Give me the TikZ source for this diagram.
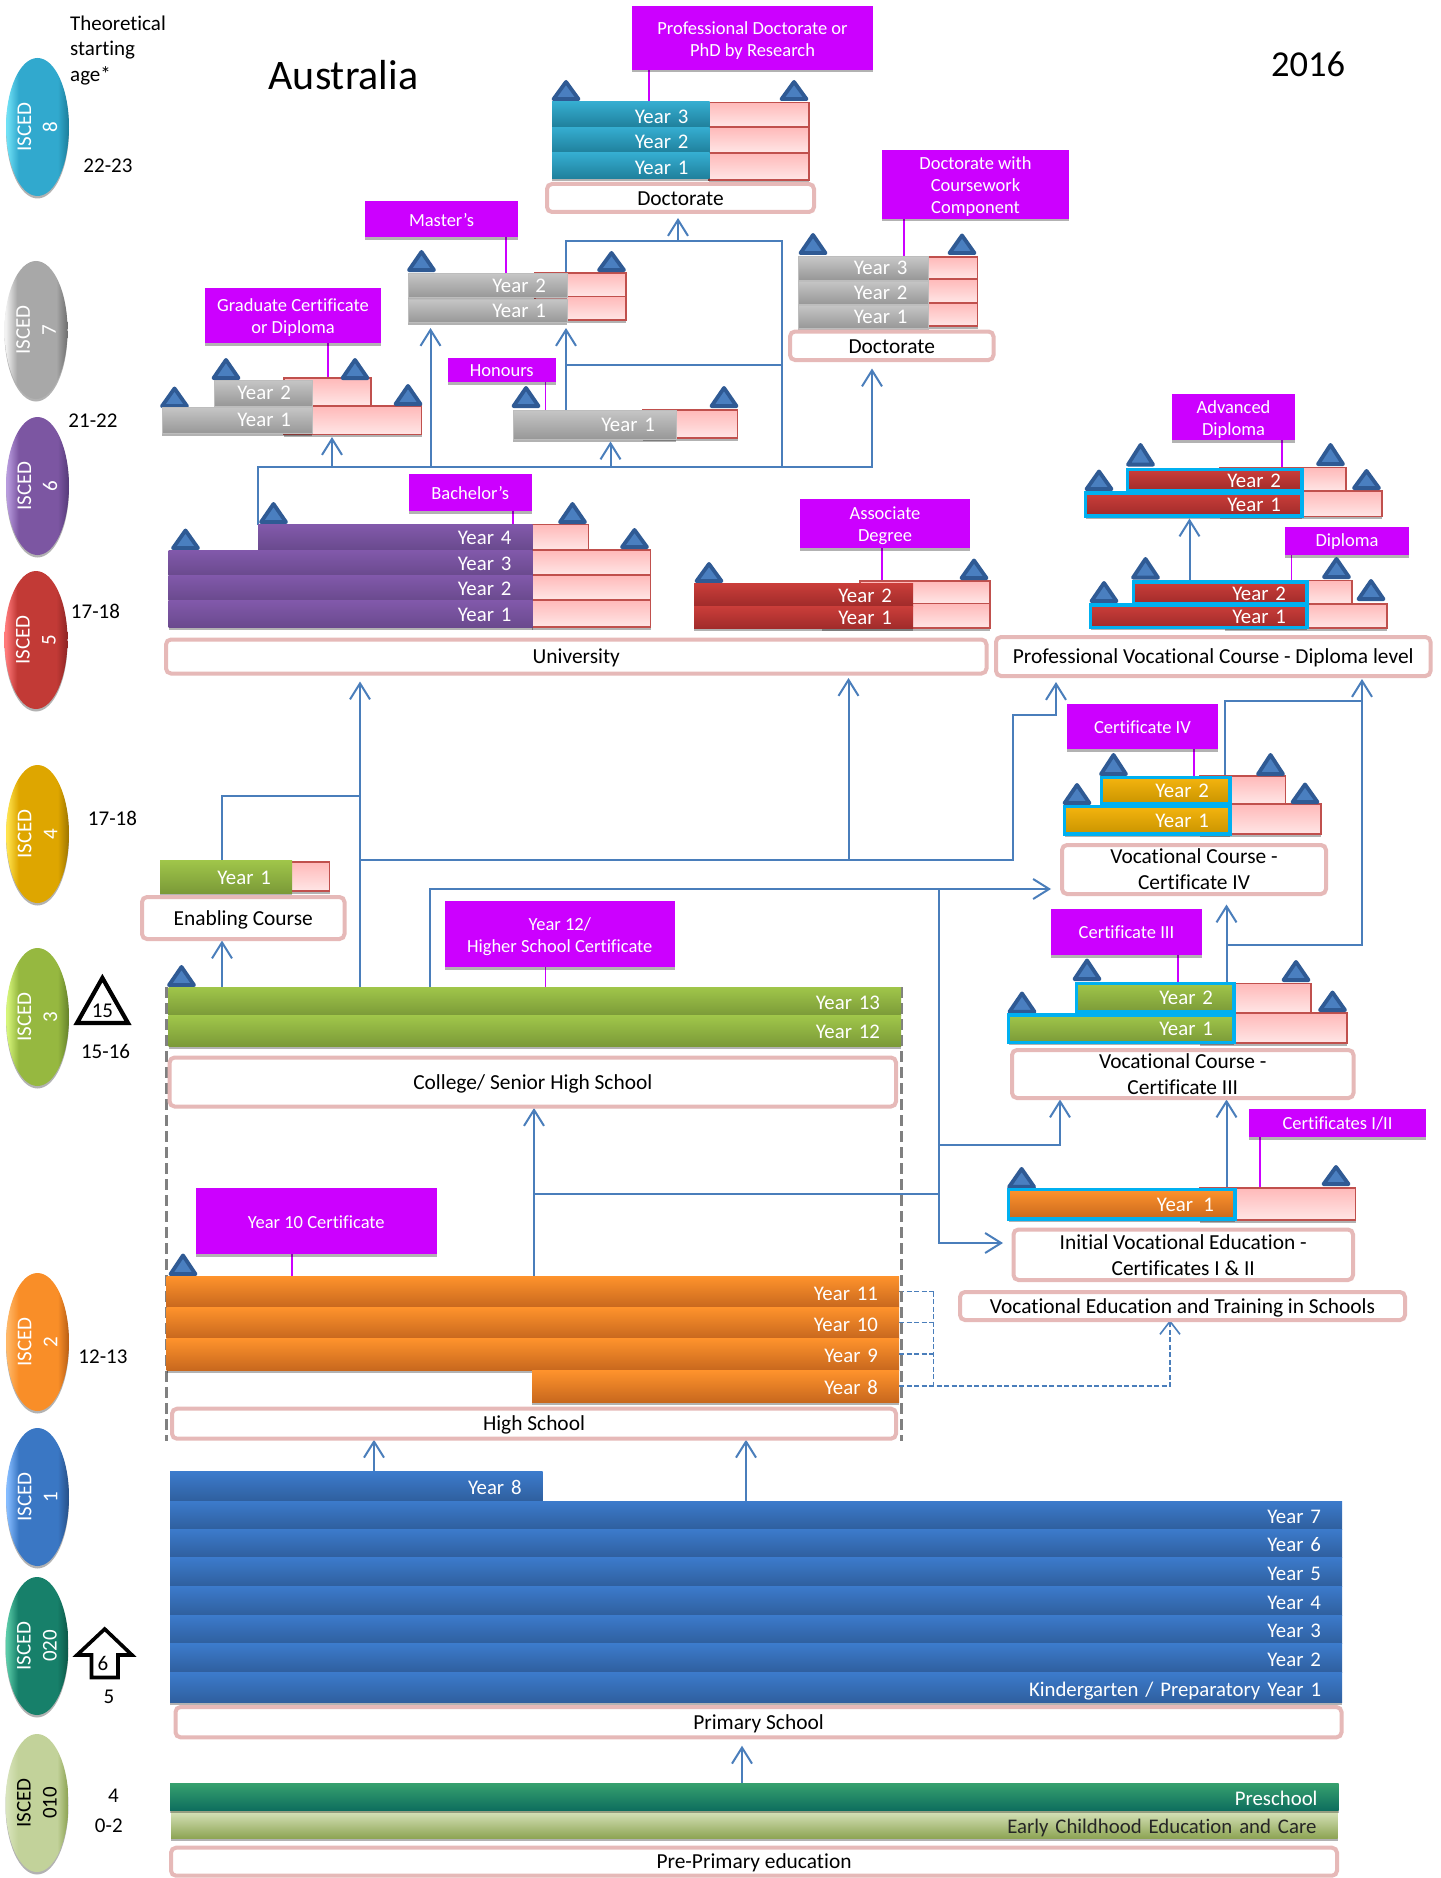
\documentclass[tikz,border=0pt]{standalone}
\usepackage{fontspec}
\setmainfont{Carlito}[Ligatures=NoCommon]
\usetikzlibrary{shapes.geometric,shadows,arrows.meta}
\pgfdeclarelayer{back}
\pgfsetlayers{back,main}
\definecolor{conncol}{HTML}{4A7EBB}
\definecolor{magcol}{HTML}{CC00FF}
\definecolor{lblcol}{HTML}{E6B9B8}
\definecolor{cyancol}{HTML}{00B0F0}
\pgfdeclarehorizontalshading[elo,emi,ehi]{elball}{100bp}{color(0bp)=(elo); color(26bp)=(elo); color(35bp)=(emi); color(66bp)=(emi); color(75bp)=(ehi); color(100bp)=(ehi)}
\newcommand{\fs}[2]{\fontsize{#1}{#2}\selectfont}
\tikzset{
  softsh/.style={drop shadow={shadow xshift=0pt,shadow yshift=-2.5pt,opacity=.3,fill=black}},
  barbase/.style={rectangle,inner xsep=21pt,inner ysep=0pt,outer sep=0pt,align=right,text=white,font=\fs{20.8}{26},text height=17pt,text depth=0pt,softsh},
  barsky/.style={barbase,top color=csky,bottom color=dsky},
  bargrey/.style={barbase,top color=cgrey,bottom color=dgrey,draw=egrey,line width=1pt,text height=13pt},
  barpur/.style={barbase,top color=cpur,bottom color=dpur,text height=15pt},
  barred/.style={barbase,top color=cred,bottom color=dred,text height=15pt},
  bargold/.style={barbase,top color=cgold,bottom color=dgold},
  bargrn/.style={barbase,top color=cgrn,bottom color=dgrn},
  barora/.style={barbase,top color=cora,bottom color=dora},
  barblu/.style={barbase,top color=cblu,bottom color=dblu},
  barteal/.style={barbase,top color=cteal,bottom color=dteal},
  barolv/.style={barbase,top color=colv,bottom color=dolv,text=black!85},
  cyanb/.style={draw=cyancol,line width=3.4pt,text height=14pt},
  pinkbx/.style={rectangle,inner sep=0pt,outer sep=0pt,top color=pinkt,bottom color=pinkb,draw=pinke,line width=1.7pt,softsh},
  lblbx/.style={rectangle,rounded corners=5pt,inner sep=0pt,outer sep=0pt,fill=white,draw=lblcol,line width=4pt,align=center,font=\fs{21.4}{26}},
  lblone/.style={text height=18.4pt,text depth=4pt},
  lblnod/.style={text height=15pt,text depth=0pt},
  magbx/.style={rectangle,inner sep=0pt,outer sep=0pt,fill=magcol,softsh},
  magtxt/.style={inner sep=0pt,align=center,text=white,font=\fs{18.5}{22}},
  mline/.style={draw=magcol,line width=1.8pt},
  trgl/.style={fill=trif,draw=trie,line width=3.8pt,line join=round},
  conn/.style={draw=conncol,line width=2pt},
  arr/.style={conn,-{Straight Barb[length=16pt,width=20pt,line width=2pt]}},
  dconn/.style={draw=conncol,line width=1.5pt,dash pattern=on 5pt off 2.5pt},
  darr/.style={dconn,-{Straight Barb[length=13pt,width=20pt,line width=1.6pt]}},
  greydash/.style={draw=black!50,line width=3pt,dash pattern=on 11pt off 5pt},
  plaintxt/.style={inner sep=0pt,font=\fs{21}{26},text=black},
  ellbase/.style={ellipse,inner sep=0pt,minimum width=63pt,minimum height=138pt,shading=elball,softsh},
  elltxt/.style={inner sep=0pt,rotate=90,align=center,font=\fs{21}{26}}
}
\definecolor{csky}{HTML}{35ADD0}\definecolor{dsky}{HTML}{1F7F9B}
\definecolor{cgrey}{HTML}{C6C6C6}\definecolor{dgrey}{HTML}{979797}\definecolor{egrey}{HTML}{BDBDBD}
\definecolor{cpur}{HTML}{8259AB}\definecolor{dpur}{HTML}{6A4A8E}
\definecolor{cred}{HTML}{CB3E3A}\definecolor{dred}{HTML}{A02B2A}
\definecolor{cgold}{HTML}{F4B40E}\definecolor{dgold}{HTML}{C99400}
\definecolor{cgrn}{HTML}{A0C64A}\definecolor{dgrn}{HTML}{7B9A38}
\definecolor{cora}{HTML}{FF932C}\definecolor{dora}{HTML}{C8681E}
\definecolor{cblu}{HTML}{3C7BCC}\definecolor{dblu}{HTML}{2F5F9E}
\definecolor{cteal}{HTML}{36A06E}\definecolor{dteal}{HTML}{0E6E5E}
\definecolor{colv}{HTML}{D8E4BC}\definecolor{dolv}{HTML}{8CA352}
\definecolor{pinkt}{HTML}{FFB9B9}\definecolor{pinkb}{HTML}{FFE6E6}\definecolor{pinke}{HTML}{C0504D}
\definecolor{trif}{HTML}{4A7FC0}\definecolor{trie}{HTML}{2F5A94}
% name x1 y1 x2 y2 style text
\newcommand{\ybar}[7]{%
  \pgfmathsetmacro{\barw}{#4-#2}\pgfmathsetmacro{\barh}{#5-#3}%
  \node[#6,anchor=north west,text width=\barw pt-42pt,minimum height=\barh pt] (#1) at (#2,#3) {#7};}
\newcommand{\pinkr}[5]{%
  \pgfmathsetmacro{\barw}{#4-#2}\pgfmathsetmacro{\barh}{#5-#3}%
  \node[pinkbx,anchor=north west,minimum width=\barw pt,minimum height=\barh pt] (#1) at (#2,#3) {};}
\newcommand{\lblr}[7][]{%
  \pgfmathsetmacro{\barw}{#5-#3-4}\pgfmathsetmacro{\barh}{#6-#4-4}%
  \pgfmathsetmacro{\cxx}{(#5+#3)/2}\pgfmathsetmacro{\cyy}{(#6+#4)/2}%
  \node[lblbx,#1,minimum width=\barw pt,minimum height=\barh pt] (#2) at (\cxx,\cyy) {#7};}
\newcommand{\magr}[7][-2.4pt]{%
  \pgfmathsetmacro{\barw}{#5-#3}\pgfmathsetmacro{\barh}{#6-#4}%
  \pgfmathsetmacro{\cxx}{(#5+#3)/2}\pgfmathsetmacro{\cyy}{(#6+#4)/2}%
  \node[magbx,minimum width=\barw pt,minimum height=\barh pt] (#2) at (\cxx,\cyy) {};
  \node[magtxt] (#2t) at ([yshift=#1]#2.center) {#7};}
% cx tip base
\newcommand{\trg}[3]{\pgfmathsetmacro{\tb}{#3-1.9}\pgfmathsetmacro{\tt}{#2+1.9}\pgfmathsetmacro{\tl}{#1-12.5}\pgfmathsetmacro{\tr}{#1+12.5}%
  \draw[trgl] (#1,\tt) -- (\tr,\tb) -- (\tl,\tb) -- cycle;}
% box bar x
\newcommand{\leadl}[3]{\coordinate (ltmp) at (#3,0); \draw[mline] (ltmp |- #1.south) -- (ltmp |- #2.north);}
% name cx cy lo mid hi textcolor line2
\newcommand{\elli}[8]{%
  \begingroup
  \definecolor{elo}{HTML}{#4}\definecolor{emi}{HTML}{#5}\definecolor{ehi}{HTML}{#6}%
  \node[ellbase] (#1) at (#2,#3) {};
  \endgroup
  \node[elltxt,text=#7] (#1t) at (#1.center) {ISCED\\#8};}
\begin{document}
\begin{tikzpicture}[x=1pt,y=-1pt]
\useasboundingbox (0,0) rectangle (1440,1878);
\begin{pgfonlayer}{back}
\fill[white] (0,0) rectangle (1440,1878);
\end{pgfonlayer}
% ellipses
\elli{e8}{37.5}{127}{6FE0F5}{31A9CE}{1C7C99}{white}{8}
\elli{e7}{36}{330}{F2F2F2}{A8A8A8}{6E6E6E}{white}{7}
\elli{e6}{37.5}{486}{B79BDD}{7C56A2}{553A78}{white}{6}
\elli{e5}{36}{640}{FF7A7A}{C23A36}{8E2524}{white}{5}
\elli{e4}{37.5}{834}{FFE34D}{DEA600}{9C7400}{white}{4}
\elli{e3}{37.5}{1017}{D6F57A}{96B840}{64802A}{white}{3}
\elli{e2}{37.5}{1342}{FFB868}{F98E28}{B85E14}{white}{2}
\elli{e1}{37.5}{1497}{85BCFF}{3A77C4}{264F86}{white}{1}
\elli{e020}{37}{1646}{5ACBA8}{17806A}{0C5546}{white}{020}
\elli{e010}{37}{1803}{D8E4BC}{C2D29A}{8AA04E}{black}{010}
% left labels
\node[plaintxt,anchor=west] (th1) at (70,23.4) {Theoretical};
\node[plaintxt,anchor=west] (th2) at (70,49.6) {starting};
\node[plaintxt,anchor=west] (th3) at (70,75.7) {age*};
\node[plaintxt] (ag1) at (108,166) {22-23};
\node[plaintxt] (ag2) at (93,421) {21-22};
\node[plaintxt] (ag3) at (95.5,611) {17-18};
\node[plaintxt] (ag4) at (112.5,818) {17-18};
\node[plaintxt] (ag5) at (105.6,1051.4) {15-16};
\node[plaintxt] (ag6) at (103,1357) {12-13};
\node[plaintxt] (ag7) at (109,1696.7) {5};
\node[plaintxt] (ag8) at (113.4,1795.7) {4};
\node[plaintxt] (ag9) at (108.8,1825.7) {0-2};
\node[plaintxt,font=\fs{42}{48}] (ttl) at (343.5,75) {Australia};
\node[plaintxt,font=\fs{36.5}{42}] (yr) at (1308,64) {2016};
% 15 triangle and 6 arrow
\draw[draw=black,fill=white,line width=4.2pt,line join=miter] (102.4,978) -- (128,1023) -- (77,1023) -- cycle;
\node[plaintxt] (t15) at (102.4,1010.6) {15};
\draw[draw=black,fill=white,line width=3.6pt,line join=miter] (104.7,1629) -- (132,1655) -- (118,1655) -- (118,1677.5) -- (91.5,1677.5) -- (91.5,1655) -- (77,1655) -- cycle;
\node[plaintxt] (t6) at (103,1663) {6};

% Doctorate (research)
\magr{pd}{632}{6}{873}{70}{Professional Doctorate or\\PhD by Research}
\pinkr{pdp3}{709}{102.5}{809}{127}
\pinkr{pdp2}{709}{127}{809}{153}
\pinkr{pdp1}{709}{153}{809}{180}
\trg{566}{80}{101}\trg{794}{80}{101}
\ybar{dy3}{552}{102}{709.5}{127.5}{barsky}{Year 3}
\ybar{dy2}{552}{127.5}{709.5}{153}{barsky}{Year 2}
\ybar{dy1n}{552}{153}{709.5}{179}{barsky}{Year 1}
\lblr[lblnod]{docr}{545}{182}{816}{214}{Doctorate}

% Master's
\magr[-1pt]{ms}{365}{201}{518}{237.5}{Master's}
\pinkr{mp2}{535}{273}{626}{296.5}
\pinkr{mp1}{535}{296.5}{626}{320}
\trg{421.5}{250}{272}\trg{611.5}{251}{272}
\ybar{my2}{408}{273.5}{567}{297.5}{bargrey}{Year 2}
\ybar{my1}{408}{299}{567}{322.5}{bargrey}{Year 1}

% Grad cert
\magr{gc}{205}{288}{381}{343}{Graduate Certificate\\or Diploma}
\pinkr{gp2}{284}{378}{371}{406}
\pinkr{gp1}{284}{406}{421.5}{434.5}
\trg{226}{358}{380}\trg{355}{358}{380}\trg{174.5}{386.5}{408}\trg{408}{384}{406}
\ybar{gy2}{214}{380}{312}{406}{bargrey}{Year 2}
\ybar{gy1}{162}{407}{312}{433.5}{bargrey}{Year 1}

% Honours
\magr[-1pt]{hn}{448}{358}{555.5}{382}{Honours}
\pinkr{hp}{643}{410}{737.5}{438}
\trg{526}{386}{408}\trg{724}{386}{408}
\ybar{hy}{513}{410}{676}{439.5}{bargrey}{Year 1}

% Doctorate with coursework
\magr{dc}{882}{150}{1069}{219}{Doctorate with\\Coursework\\Component}
\pinkr{cp3}{904}{257}{977.5}{279}
\pinkr{cp2}{904}{279}{977.5}{303}
\pinkr{cp1}{904}{303}{977.5}{326}
\trg{813}{233}{255}\trg{962}{233.5}{255}
\ybar{cy3}{798}{257}{928.5}{280}{bargrey}{Year 3}
\ybar{cy2}{798}{281}{928.5}{304.5}{bargrey}{Year 2}
\ybar{cy1n}{798}{305}{928.5}{328.5}{bargrey}{Year 1}
\lblr[lblnod]{doc2}{788}{329.5}{995.5}{362}{Doctorate}

% Bachelor
\magr[-1pt]{ba}{408.5}{474}{532}{511}{Bachelor's}
\pinkr{bp4}{532}{524.5}{588.5}{550}
\pinkr{bp3}{532}{550}{650.5}{575}
\pinkr{bp2}{532}{575}{650.5}{600}
\pinkr{bp1}{532}{600}{650.5}{627}
\trg{273.5}{502}{524}\trg{572.5}{502}{524}\trg{185.5}{528.5}{550}\trg{634.5}{528}{549}
\ybar{buy4}{258}{524.5}{532.5}{549.5}{barpur}{Year 4}
\ybar{buy3}{168.5}{550}{532.5}{575}{barpur}{Year 3}
\ybar{buy2}{168.5}{575}{532.5}{600}{barpur}{Year 2}
\ybar{buy1}{168.5}{600}{532.5}{627}{barpur}{Year 1}

% Associate
\magr{as}{800}{499}{970}{548}{Associate\\Degree}
\pinkr{ap2}{860}{581}{990}{603.5}
\pinkr{ap1}{822}{603.5}{990}{628}
\trg{709}{562}{583}\trg{974}{558.5}{580}
\ybar{asy2}{694}{583}{913}{606}{barred}{Year 2}
\ybar{asy1}{694}{606}{913}{628.5}{barred}{Year 1}

\lblr[lblone]{univ}{164}{637.5}{988.5}{675.5}{University}
\lblr[lblone]{pv}{994}{635}{1432.5}{678}{Professional Vocational Course - Diploma level}

% Advanced Diploma
\magr{ad}{1172}{394}{1295}{440}{Advanced\\Diploma}
\pinkr{aap2}{1220}{467.5}{1346}{491}
\pinkr{aap1}{1220}{491}{1382}{516.5}
\trg{1140.5}{443}{466.5}\trg{1330.5}{443}{466}\trg{1099}{469.5}{491}\trg{1366.5}{469}{490}
\ybar{ay2}{1127.5}{469.5}{1302}{491}{barred,cyanb}{Year 2}
\ybar{ay1}{1085.5}{493}{1302}{516}{barred,cyanb}{Year 1}

% Diploma
\magr[-1pt]{dp}{1285}{527}{1409}{555}{Diploma}
\pinkr{dpp2}{1225}{580.5}{1352}{604}
\pinkr{dpp1}{1225}{604}{1387}{628}
\trg{1145.5}{557}{579.5}\trg{1336.5}{557}{579}\trg{1104}{581}{603}\trg{1371}{579}{601}
\ybar{dly2}{1133.5}{582}{1307}{604}{barred,cyanb}{Year 2}
\ybar{dly1}{1090.5}{605}{1307}{627.5}{barred,cyanb}{Year 1}

% Enabling
\pinkr{ep}{250}{862}{329.5}{891}
\ybar{ey1}{160}{860}{292}{893}{bargrn,text height=15pt}{Year 1}
\lblr[lblone]{enab}{140}{895}{346.5}{941}{Enabling Course}

% Cert IV
\magr[-1pt]{c4}{1067}{703.6}{1218}{749.4}{Certificate IV}
\pinkr{c4p2}{1200}{776}{1285.5}{804}
\pinkr{c4p1}{1200}{804}{1321}{834}
\trg{1113.5}{753}{776}\trg{1270.5}{753}{776}\trg{1077}{783}{805}\trg{1305}{782.5}{804}
\ybar{c4y2}{1101.5}{777.5}{1230}{803.6}{bargold,cyanb}{Year 2}
\ybar{c4y1}{1064.5}{806.5}{1230}{834}{bargold,cyanb}{Year 1}
\lblr{vc4}{1060}{843}{1328}{896}{Vocational Course -\\Certificate IV}

% Cert III
\magr[0pt]{c3}{1051}{909}{1202}{955}{Certificate III}
\pinkr{c3p2}{1200}{983.5}{1311}{1013}
\pinkr{c3p1}{1200}{1013}{1347}{1043}
\trg{1087}{958.5}{981}\trg{1296}{960}{982}\trg{1022}{991.5}{1013.6}\trg{1332.5}{990.5}{1012}
\ybar{c3y2}{1076.5}{983.5}{1234}{1012}{bargrn,cyanb}{Year 2}
\ybar{c3y1}{1008.5}{1015}{1234}{1042.5}{bargrn,cyanb}{Year 1}
\lblr{vc3}{1010}{1048}{1355.5}{1100}{Vocational Course -\\Certificate III}

% Cert I/II
\magr[-1pt]{c1}{1249}{1108.5}{1426}{1137}{Certificates I/II}
\pinkr{c1p}{1200}{1188}{1355.5}{1220}
\trg{1021.6}{1167}{1188.7}\trg{1336}{1165}{1186}
\ybar{i1}{1008.5}{1189.5}{1235}{1219}{barora,cyanb}{Year\ \,1}
\lblr{ini}{1011.5}{1227.5}{1355}{1282}{Initial Vocational Education -\\Certificates I \& II}
\lblr[lblone]{vet}{958}{1290}{1407}{1322}{Vocational Education and Training in Schools}

% College
\magr{y12b}{444.5}{901}{675}{967}{Year 12/\\Higher School Certificate}
\trg{181.5}{965}{987}
\ybar{cy13}{168.5}{987}{901}{1015.5}{bargrn}{Year 13}
\ybar{cy12}{168.5}{1015.5}{901}{1046}{bargrn,text height=15pt}{Year 12}
\lblr[lblone]{coll}{167.6}{1055.5}{898}{1108.5}{College/ Senior High School}

% High school
\magr[-1pt]{y10b}{195.6}{1187.7}{437}{1254}{Year 10 Certificate}
\trg{183}{1253.5}{1276}
\ybar{hy11}{166.7}{1276}{899}{1307}{barora}{Year 11}
\ybar{hy10}{166.7}{1307}{899}{1338}{barora}{Year 10}
\ybar{hy9}{166.7}{1338}{899}{1370}{barora}{Year 9}
\ybar{hy8}{532}{1370}{899}{1402}{barora}{Year 8}
\lblr[lblone]{hs}{170}{1406.7}{898}{1440.7}{High School}

% Primary
\ybar{py8}{170}{1471.7}{542.7}{1501}{barblu}{Year 8}
\ybar{py7}{170}{1501}{1342}{1529}{barblu}{Year 7}
\ybar{py6}{170}{1529}{1342}{1557.3}{barblu}{Year 6}
\ybar{py5}{170}{1557.3}{1342}{1586}{barblu}{Year 5}
\ybar{py4}{170}{1586}{1342}{1615}{barblu}{Year 4}
\ybar{py3}{170}{1615}{1342}{1643.7}{barblu}{Year 3}
\ybar{py2}{170}{1643.7}{1342}{1672.3}{barblu}{Year 2}
\ybar{py1}{170}{1672.3}{1342}{1702.7}{barblu}{Kindergarten / Preparatory Year 1}
\lblr[lblone]{prim}{173.5}{1705}{1343.5}{1739.3}{Primary School}

% Pre-primary
\ybar{ecec}{171}{1810.7}{1337.5}{1838.7}{barolv}{Early Childhood Education and Care}
\ybar{pre}{170}{1783.7}{1338.5}{1810}{barteal}{Preschool}
\lblr[lblone]{ppe}{169}{1845.7}{1339}{1877.7}{Pre-Primary education}

% Honours connector whose tip lies on the bar
\coordinate (c3a) at (610.5,467);
\draw[arr,shorten >=2pt] (c3a) -- (c3a |- hy.south);

\begin{pgfonlayer}{back}
% magenta leaders
\leadl{pd}{dy3}{649}
\leadl{ms}{my2}{506}
\leadl{gc}{gy2}{328}
\leadl{hn}{hy}{545.5}
\leadl{dc}{cy3}{904}
\leadl{ba}{buy4}{513}
\leadl{as}{asy2}{882}
\leadl{ad}{ay2}{1282}
\leadl{dp}{dly2}{1291.5}
\leadl{c4}{c4y2}{1194}
\leadl{c3}{c3y2}{1178}
\leadl{c1}{c1p}{1260}
\leadl{y12b}{cy13}{545.5}
\leadl{y10b}{hy11}{292}
% top network
\coordinate (cEnd) at (872,467);
\coordinate (cB) at (782,467);
\coordinate (cT1) at (782,241.5);
\coordinate (cT2) at (566,241.5);
\coordinate (cM) at (566,364.5);
\coordinate (cD) at (678,241.5);
\coordinate (c1a) at (332,467);
\coordinate (c2a) at (430.5,467);
\coordinate (c4a) at (566,0);
\coordinate (c5a) at (1189.5,0);
\draw[arr,shorten >=8.5pt] (buy4.north west) |- (cEnd) -- (cEnd |- doc2.south);
\draw[arr,shorten >=3.5pt] (c1a) -- (c1a |- gy1.south);
\draw[arr,shorten >=5.5pt] (c2a) -- (c2a |- my1.south);
\draw[arr,shorten >=5.5pt] (c4a |- hy.north) -- (c4a |- my1.south);
\draw[conn] (cB) -- (cT1) -- (cT2) -- (cT2 |- my2.north);
\draw[conn] (cM) -- (cM -| cB);
\draw[arr,shorten >=6pt] (cD) -- (cD |- docr.south);
\draw[arr,shorten >=2.5pt] (c5a |- dly2.north) -- (c5a |- ay1.south);
% lower network
\coordinate (cU) at (360,0);
\coordinate (cE1) at (222,0);
\coordinate (cE2) at (222,796);
\coordinate (cE3) at (360,796);
\coordinate (cH) at (360,860);
\coordinate (cH2) at (1013,860);
\coordinate (cH3) at (1013,715);
\coordinate (cH4) at (1056,715);
\coordinate (cH5) at (848.5,860);
\coordinate (cV) at (430,889);
\coordinate (cW) at (939,889);
\coordinate (cW1) at (939,1243);
\coordinate (cW2) at (939,1145);
\coordinate (cW3) at (1060,1145);
\coordinate (cW4) at (939,1194.4);
\coordinate (cX) at (534,0);
\coordinate (cX1) at (534,1194.4);
\coordinate (cY) at (1226.5,0);
\coordinate (cZ) at (1226.5,945);
\coordinate (cZ1) at (1362,945);
\coordinate (cQ) at (1225,0);
\coordinate (cQ1) at (1225,701);
\coordinate (cQ2) at (1362,701);
\draw[arr,shorten >=8pt] (cU |- cy13.north) -- (cU |- univ.south);
\draw[arr,shorten >=1.5pt] (cE1 |- cy13.north) -- (cE1 |- enab.south);
\draw[conn] (cE1 |- ey1.north) -- (cE2) -- (cE3);
\draw[arr,shorten >=6pt] (cH) -- (cH2) -- (cH3) -- (cH4) -- (cH4 |- pv.south);
\draw[arr,shorten >=4.5pt] (cH5) -- (cH5 |- univ.south);
\draw[arr,shorten >=11pt] (cV |- cy13.north) -- (cV) -- (cV -| vc4.west);
\draw[arr,shorten >=10.5pt] (cW) -- (cW1) -- (cW1 -| ini.west);
\draw[arr,shorten >=1.5pt] (cW2) -- (cW3) -- (cW3 |- vc3.south);
\draw[arr,shorten >=1.5pt] (cX |- hy11.north) -- (cX |- coll.south);
\draw[conn] (cX1) -- (cW4);
\draw[arr,shorten >=1.5pt] (cY |- i1.north) -- (cY |- vc3.south);
\draw[arr,shorten >=10.5pt] (cY |- c3y2.north) -- (cY |- vc4.south);
\draw[arr,shorten >=3pt] (cZ) -- (cZ1) -- (cZ1 |- pv.south);
\draw[conn] (cQ |- c4p2.north) -- (cQ1) -- (cQ2);
% primary arrows
\coordinate (cP1) at (374,0);
\coordinate (cP2) at (746,0);
\coordinate (cP3) at (742,0);
\draw[arr,shorten >=1pt] (cP1 |- py8.north) -- (cP1 |- hs.south);
\draw[arr,shorten >=1pt] (cP2 |- py7.north) -- (cP2 |- hs.south);
\draw[arr,shorten >=8.4pt] (cP3 |- pre.north) -- (cP3 |- prim.south);
% dashed
\coordinate (dx) at (933.5,0);
\coordinate (dv) at (1170,0);
\draw[dconn] (hy11.east) -- (hy11.east -| dx);
\draw[dconn] (hy10.east) -- (hy10.east -| dx);
\draw[dconn] (hy9.east) -- (hy9.east -| dx);
\draw[dconn] (dx |- hy11.east) -- (dx |- hy8.east);
\draw[darr] (hy8.east) -- (dv |- hy8.east) -- (dv |- vet.south);
\coordinate (gl1) at (166.7,987);
\coordinate (gl2) at (166.7,1441);
\coordinate (gr1) at (901,987);
\coordinate (gr2) at (901,1441);
\draw[greydash] (gl1) -- (gl2);
\draw[greydash] (gr1) -- (gr2);
\end{pgfonlayer}
\end{tikzpicture}
\end{document}
